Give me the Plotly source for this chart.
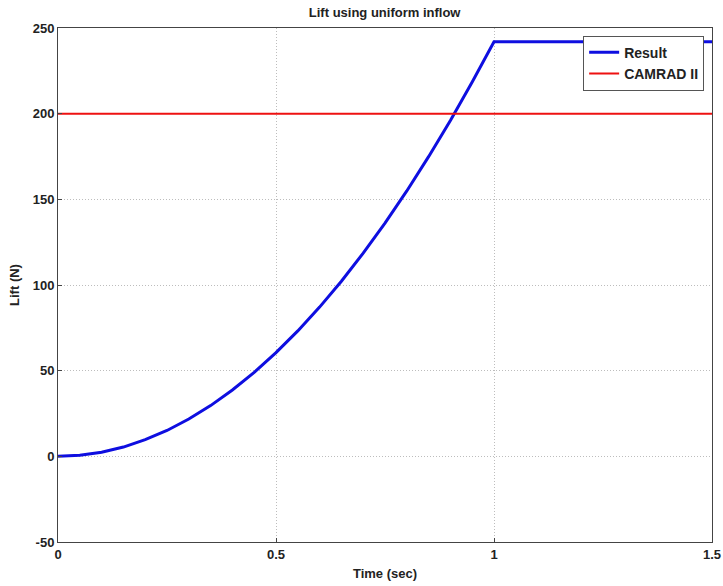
import plotly.graph_objects as go

time_s = [0, 0.05, 0.1, 0.15, 0.2, 0.25, 0.3, 0.35, 0.4, 0.45, 0.5, 0.55, 0.6,
          0.65, 0.7, 0.75, 0.8, 0.85, 0.9, 0.95, 1.0, 1.5]
lift_result = [0, 0.6, 2.4, 5.4, 9.7, 15.1, 21.8, 29.6, 38.7, 49.0, 60.5, 73.2,
               87.1, 102.2, 118.6, 136.1, 154.9, 174.9, 196.0, 218.5, 242.0, 242.0]
camrad_time = [0, 1.5]
camrad_lift = [200, 200]
xticks = [0, 0.5, 1, 1.5]
yticks = [-50, 0, 50, 100, 150, 200, 250]

fig = go.Figure()
fig.add_trace(go.Scatter(x=time_s, y=lift_result, mode="lines", name="<b>Result</b>",
                         line=dict(color="#0e0ee0", width=3)))
fig.add_trace(go.Scatter(x=camrad_time, y=camrad_lift, mode="lines", name="<b>CAMRAD II</b>",
                         line=dict(color="#ee1111", width=2)))

font = "Liberation Sans, Arial, sans-serif"
axis_common = dict(showline=True, linecolor="#444", linewidth=1, mirror=True,
                   showgrid=True, gridcolor="#bdbdbd", griddash="1px,2px", gridwidth=1,
                   zeroline=False, ticks="inside", ticklen=4, tickcolor="#444",
                   automargin=False,
                   tickfont=dict(family=font, size=13, color="#222"))

fig.update_layout(
    width=723, height=586,
    margin=dict(l=58, r=11, t=28, b=44),
    paper_bgcolor="white", plot_bgcolor="white",
    title=dict(text="<b>Lift using uniform inflow</b>", x=0.532, xanchor="center", y=0.987,
               yanchor="top", font=dict(family=font, size=13, color="#222")),
    xaxis=dict(range=[0, 1.5], tickvals=xticks, ticktext=[f"<b>{v:g}</b>" for v in xticks],
               title=dict(text="<b>Time (sec)</b>", font=dict(family=font, size=13, color="#222"),
                          standoff=8), **axis_common),
    yaxis=dict(range=[-50, 250], tickvals=yticks, ticktext=[f"<b>{v:g}</b>" for v in yticks],
               title=dict(text="<b>Lift (N)</b>", font=dict(family=font, size=13, color="#222"),
                          standoff=10), **axis_common),
    legend=dict(x=0.988, y=0.985, xanchor="right", yanchor="top",
                bgcolor="white", bordercolor="#555", borderwidth=1,
                font=dict(family=font, size=14, color="#222"),
                tracegroupgap=0, itemwidth=30),
    showlegend=True,
)

fig.write_html("out.html", config={"displayModeBar": False},
               post_script="document.body.style.margin='0';document.body.style.overflow='hidden';")
